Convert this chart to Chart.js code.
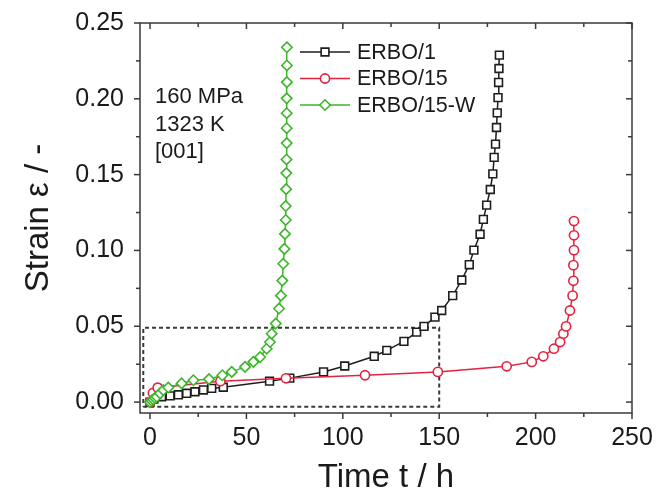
<!DOCTYPE html>
<html>
<head>
<meta charset="utf-8">
<script src="https://cdn.jsdelivr.net/npm/chart.js@4.4.1/dist/chart.umd.min.js"></script>
<style>
  html, body { margin: 0; padding: 0; background: #fff; }
  #wrap { width: 656px; height: 498px; }
</style>
</head>
<body>
<div id="wrap"><canvas id="chart"></canvas></div>
<script>
// values (time in h, strain)
const erbo1Time   = [0, 2, 6, 10.4, 14.7, 19, 23.3, 27.7, 32, 38, 62, 72.5, 90, 101, 116.3, 122.8, 131.7, 138.3, 142.1, 147.8, 151.3, 157, 161.7, 165.6, 168, 171.2, 172.9, 174.6, 176.5, 177.8, 178.5, 179.2, 179.7, 180.1, 180.5, 180.8, 181, 181.2];
const erbo1Strain = [0, 0.002, 0.0035, 0.0041, 0.0048, 0.0058, 0.0068, 0.008, 0.009, 0.0098, 0.0138, 0.0158, 0.0199, 0.0238, 0.0302, 0.0341, 0.040, 0.0461, 0.0499, 0.056, 0.0604, 0.0702, 0.0805, 0.0906, 0.1002, 0.1107, 0.1205, 0.1299, 0.1402, 0.1505, 0.1614, 0.1701, 0.1811, 0.1907, 0.2008, 0.2108, 0.220, 0.2288];

const erbo15Time   = [0, 1.5, 4, 36.5, 70.5, 111.5, 149.3, 185, 198, 204, 209.5, 212.7, 214.4, 215.8, 217.8, 219.2, 219.6, 219.6, 219.9, 219.9, 219.9];
const erbo15Strain = [0, 0.006, 0.0095, 0.0138, 0.0157, 0.0177, 0.0199, 0.0236, 0.0265, 0.0302, 0.0352, 0.0396, 0.0451, 0.0499, 0.0604, 0.0702, 0.080, 0.0903, 0.1002, 0.110, 0.1194];

const erbo15wTime   = [0, 0.8, 1.7, 2.6, 3.5, 5.2, 6.9, 9.5, 16.4, 22.5, 30.6, 37.5, 42.4, 49.3, 53.6, 57.1, 60.5, 62.2, 63.1, 65.2, 66.9, 67.9, 68.6, 69.1, 69.7, 70.0, 70.4, 70.4, 70.6, 70.7, 70.8, 70.9, 70.9, 70.9, 70.9, 71.0, 71.0, 71.0];
const erbo15wStrain = [0, 0.001, 0.0018, 0.0027, 0.0035, 0.0057, 0.0079, 0.0096, 0.0123, 0.0144, 0.0151, 0.0177, 0.0199, 0.0232, 0.0265, 0.0297, 0.0352, 0.0396, 0.0451, 0.0518, 0.0617, 0.0702, 0.0801, 0.0912, 0.101, 0.1109, 0.1201, 0.1293, 0.1404, 0.151, 0.160, 0.1708, 0.1806, 0.1905, 0.2003, 0.211, 0.222, 0.234];

// dashed zoom box (corners)
const boxTime   = [-3.5, 150, 150, -3.5, -3.5];
const boxStrain = [-0.003, -0.003, 0.049, 0.049, -0.003];

const xTicks = [0, 50, 100, 150, 200, 250];
const xMinor = [25, 75, 125, 175, 225];
const yTicks = [0, 0.05, 0.10, 0.15, 0.20, 0.25];
const yMinor = [0.025, 0.075, 0.125, 0.175, 0.225];

const noteLines = ["160 MPa", "1323 K", "[001]"];

const FONT = "'Liberation Sans', Arial, sans-serif";
const toPoints = (xs, ys) => xs.map((v, i) => ({ x: v, y: ys[i] }));

// frame with Origin style ticks (outward bottom/left, inward top/right)
const frameTicks = {
    id: "frameTicks",
    afterDraw(chart) {
        const { ctx, chartArea: a, scales: { x, y } } = chart;
        ctx.save();
        ctx.strokeStyle = "#3a3a3a";
        ctx.lineWidth = 1.5;
        ctx.strokeRect(a.left, a.top, a.right - a.left, a.bottom - a.top);
        const mark = (x1, y1, x2, y2) => { ctx.beginPath(); ctx.moveTo(x1, y1); ctx.lineTo(x2, y2); ctx.stroke(); };
        const xt = (v, len) => {
            const px = x.getPixelForValue(v);
            mark(px, a.bottom, px, a.bottom + len);
            mark(px, a.top, px, a.top + len);
        };
        const yt = (v, len) => {
            const py = y.getPixelForValue(v);
            mark(a.left - len, py, a.left, py);
            mark(a.right, py, a.right - len, py);
        };
        xTicks.forEach(v => xt(v, 6));
        xMinor.forEach(v => xt(v, 4));
        yTicks.forEach(v => yt(v, 6));
        yMinor.forEach(v => yt(v, 4));
        ctx.restore();
    }
};

// legend with line + marker, plus the condition note
const legendNote = {
    id: "legendNote",
    afterDraw(chart) {
        const { ctx, chartArea: a } = chart;
        ctx.save();
        ctx.font = "22px " + FONT;
        ctx.textBaseline = "middle";
        ctx.fillStyle = "#1a1a1a";
        noteLines.forEach((t, i) => ctx.fillText(t, a.left + 15, a.top + 74 + i * 27.5));

        ctx.font = "21.5px " + FONT;
        const rows = chart.data.datasets.filter(d => d.label);
        rows.forEach((d, i) => {
            const yy = a.top + 29 + i * 26.5;
            const x0 = a.left + 160, x1 = a.left + 210;
            ctx.strokeStyle = d.borderColor;
            ctx.lineWidth = 1.6;
            ctx.beginPath(); ctx.moveTo(x0, yy); ctx.lineTo(x1, yy); ctx.stroke();
            ctx.fillStyle = "#fff";
            ctx.lineWidth = d.pointBorderWidth;
            Chart.helpers.drawPoint(ctx, { pointStyle: d.pointStyle, radius: d.pointRadius, rotation: 0, borderWidth: d.pointBorderWidth }, (x0 + x1) / 2, yy);
            ctx.fillStyle = "#1a1a1a";
            ctx.fillText(d.label, x1 + 7, yy + 1);
        });
        ctx.restore();
    }
};

const series = (label, xs, ys, color, style, radius, order) => ({
    label,
    data: toPoints(xs, ys),
    showLine: true,
    borderColor: color,
    borderWidth: 1.5,
    pointStyle: style,
    pointRadius: radius,
    pointBorderWidth: 1.6,
    pointBorderColor: color,
    pointBackgroundColor: "#fff",
    order
});

new Chart(document.getElementById("chart"), {
    type: "scatter",
    data: {
        datasets: [
            series("ERBO/1", erbo1Time, erbo1Strain, "#1e1e1e", "rect", 5.5, 3),
            series("ERBO/15", erbo15Time, erbo15Strain, "#e2233f", "circle", 4.6, 2),
            series("ERBO/15-W", erbo15wTime, erbo15wStrain, "#3cb52a", "rectRot", 5.2, 1),
            {
                label: "",
                data: toPoints(boxTime, boxStrain),
                showLine: true,
                borderColor: "#3a3a3a",
                borderWidth: 2,
                borderDash: [4, 3],
                pointRadius: 0,
                order: 4
            }
        ]
    },
    options: {
        responsive: true,
        maintainAspectRatio: false,
        animation: false,
        layout: { padding: { top: 21, right: 24, left: 0, bottom: 0 } },
        plugins: { legend: { display: false }, tooltip: { enabled: false } },
        scales: {
            x: {
                type: "linear",
                min: -5.2,
                max: 250,
                afterBuildTicks: s => { s.ticks = xTicks.map(v => ({ value: v })); },
                afterFit: s => { s.height = 85; },
                grid: { display: false },
                border: { display: false },
                ticks: { color: "#1a1a1a", padding: 2, font: { family: FONT, size: 25 } },
                title: { display: true, text: "Time t / h", color: "#1a1a1a", padding: 0, font: { family: FONT, size: 33 } }
            },
            y: {
                type: "linear",
                min: -0.0072,
                max: 0.25,
                afterBuildTicks: s => { s.ticks = yTicks.map(v => ({ value: v })); },
                afterFit: s => { s.width = 140; },
                grid: { display: false },
                border: { display: false },
                ticks: { color: "#1a1a1a", padding: 8, font: { family: FONT, size: 25 }, callback: v => v.toFixed(2) },
                title: { display: true, text: "Strain ε / -", color: "#1a1a1a", padding: { top: 19, bottom: 0 }, font: { family: FONT, size: 33 } }
            }
        }
    },
    plugins: [frameTicks, legendNote]
});
</script>
</body>
</html>
